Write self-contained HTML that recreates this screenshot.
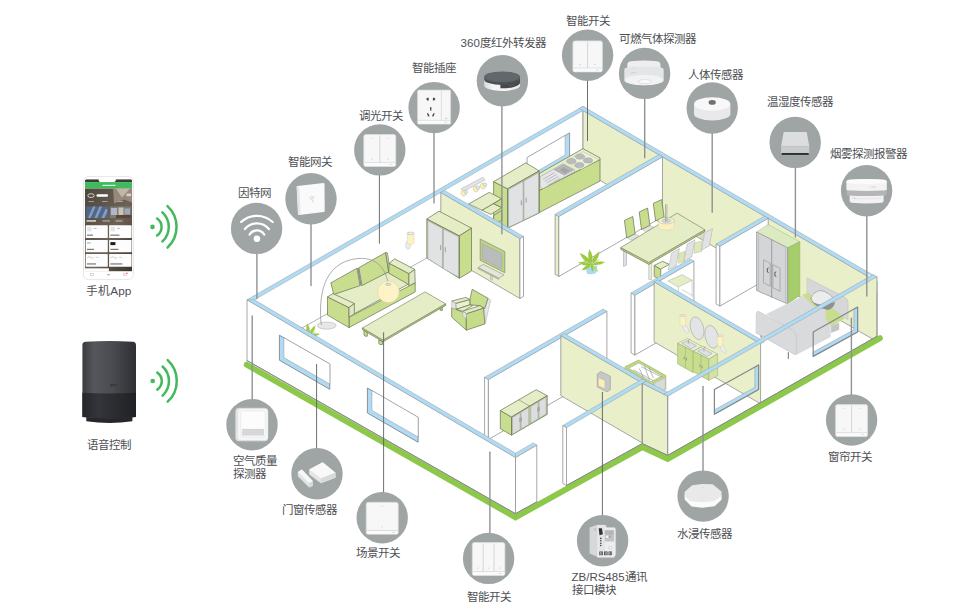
<!DOCTYPE html>
<html lang="zh-CN">
<head>
<meta charset="utf-8">
<title>Smart Home</title>
<style>
html,body{margin:0;padding:0;background:#fff;}
body{width:971px;height:615px;overflow:hidden;font-family:"Liberation Sans",sans-serif;}
svg{display:block;}
svg text{font-family:"Liberation Sans",sans-serif;font-size:11.5px;fill:#4d4f53;}
</style>
</head>
<body>
<svg width="971" height="615" viewBox="0 0 971 615">
<polygon points="250.7,302.0 586.7,108.4 586.7,168.4 250.7,362.0" fill="#fff" stroke="none" stroke-width="0.8" stroke-linejoin="round" />
<polyline points="583.0,110.5 583.0,170.5" fill="none" stroke="#909295" stroke-width="0.8" stroke-linecap="round" stroke-linejoin="round" />
<polygon points="583.0,110.5 877.1,281.7 877.1,341.7 583.0,170.5" fill="#e8efc9" stroke="#909295" stroke-width="0.8" stroke-linejoin="round" />
<polygon points="247.0,299.8 583.0,106.3 586.7,108.4 250.7,302.0" fill="#afdcf4" stroke="#9a9c9e" stroke-width="0.5" stroke-linejoin="round" />
<polygon points="579.3,108.4 583.0,106.3 876.5,277.1 872.8,279.2" fill="#afdcf4" stroke="#9a9c9e" stroke-width="0.5" stroke-linejoin="round" />
<polygon points="527.2,157.5 569.6,132.9 569.6,158.4 527.2,182.9" fill="#afdcf4" stroke="#909295" stroke-width="0.9" stroke-linejoin="round" />
<polygon points="527.2,157.5 565.1,135.6 565.1,155.0 527.2,177.2" fill="#fff" stroke="#909295" stroke-width="0.5" stroke-linejoin="round" />
<polygon points="539.2,173.6 583.0,148.6 600.0,157.9 600.0,160.2 539.2,190.6" fill="#e4edc6" stroke="#677250" stroke-width="0.7" stroke-linejoin="round" />
<polygon points="539.2,190.6 600.0,159.7 600.0,181.1 539.2,212.6" fill="#c8dd8e" stroke="#677250" stroke-width="0.7" stroke-linejoin="round" />
<polygon points="566.2,161.5 583.0,151.8 598.4,159.7 581.2,169.3" fill="#edf2da" stroke="#b9c2a3" stroke-width="0.5" stroke-linejoin="round" />
<ellipse cx="571.4" cy="161.1" rx="4.6" ry="2.6" fill="#b9bbbd" stroke="#9a9c9e" stroke-width="0.4" />
<ellipse cx="580.0" cy="156.6" rx="4.6" ry="2.6" fill="#b9bbbd" stroke="#9a9c9e" stroke-width="0.4" />
<ellipse cx="588.0" cy="160.4" rx="4.6" ry="2.6" fill="#b9bbbd" stroke="#9a9c9e" stroke-width="0.4" />
<ellipse cx="579.4" cy="165.0" rx="4.6" ry="2.6" fill="#b9bbbd" stroke="#9a9c9e" stroke-width="0.4" />
<polygon points="540.1,176.8 563.0,163.8 574.4,169.7 574.4,171.8 542.8,188.8 540.1,187.0" fill="#e6e7e8" stroke="#9a9c9e" stroke-width="0.6" stroke-linejoin="round" />
<polygon points="554.4,169.7 563.3,164.7 573.2,170.1 564.2,175.1" fill="#b4b6b8" stroke="#8e9092" stroke-width="0.5" stroke-linejoin="round" />
<polygon points="559.4,170.1 563.7,167.6 569.6,170.8 565.1,173.3" fill="#a2a4a6" stroke="none" stroke-width="0" stroke-linejoin="round" />
<polyline points="543.3,179.0 554.4,172.7" fill="none" stroke="#9a9c9e" stroke-width="0.6" stroke-linecap="round" stroke-linejoin="round" />
<polyline points="545.1,181.0 556.2,174.7" fill="none" stroke="#9a9c9e" stroke-width="0.6" stroke-linecap="round" stroke-linejoin="round" />
<polyline points="546.9,182.9 558.0,176.7" fill="none" stroke="#9a9c9e" stroke-width="0.6" stroke-linecap="round" stroke-linejoin="round" />
<polyline points="548.7,184.9 559.8,178.6" fill="none" stroke="#9a9c9e" stroke-width="0.6" stroke-linecap="round" stroke-linejoin="round" />
<polygon points="461.1,188.8 482.9,177.2 485.0,179.9 463.2,191.5" fill="#e3e4e5" stroke="#a7a9ab" stroke-width="0.5" stroke-linejoin="round" />
<ellipse cx="463.6" cy="193.3" rx="2.6" ry="2.9" fill="#fbf0b8" stroke="#b9b48f" stroke-width="0.4" transform="rotate(-30 463.6 193.3)"/>
<ellipse cx="465.8" cy="191.9" rx="1.8" ry="1.8" fill="#e3e4e5" stroke="#a7a9ab" stroke-width="0.4" />
<ellipse cx="475.8" cy="189.0" rx="2.6" ry="2.9" fill="#fbf0b8" stroke="#b9b48f" stroke-width="0.4" transform="rotate(-30 475.8 189.0)"/>
<ellipse cx="478.0" cy="187.6" rx="1.8" ry="1.8" fill="#e3e4e5" stroke="#a7a9ab" stroke-width="0.4" />
<ellipse cx="482.9" cy="186.0" rx="2.6" ry="2.9" fill="#fbf0b8" stroke="#b9b48f" stroke-width="0.4" transform="rotate(-30 482.9 186.0)"/>
<ellipse cx="485.1" cy="184.6" rx="1.8" ry="1.8" fill="#e3e4e5" stroke="#a7a9ab" stroke-width="0.4" />
<polygon points="493.6,181.7 507.6,188.8 507.6,228.2 493.6,221.0" fill="#c8dd8e" stroke="#677250" stroke-width="0.7" stroke-linejoin="round" />
<polygon points="493.6,181.7 525.8,162.9 539.2,170.9 507.6,188.8" fill="#e4edc6" stroke="#677250" stroke-width="0.7" stroke-linejoin="round" />
<polygon points="507.6,188.8 539.2,170.9 539.2,213.0 507.6,228.2" fill="#b9c79c" stroke="#677250" stroke-width="0.7" stroke-linejoin="round" />
<polygon points="508.6,189.4 523.1,181.3 523.1,220.5 508.6,227.3" fill="#e1e2e3" stroke="#9a9c9e" stroke-width="0.5" stroke-linejoin="round" />
<polygon points="524.0,181.0 538.5,172.7 538.5,212.8 524.0,219.9" fill="#e1e2e3" stroke="#9a9c9e" stroke-width="0.5" stroke-linejoin="round" />
<polyline points="521.3,200.8 521.3,204.9" fill="none" stroke="#8e9092" stroke-width="0.8" stroke-linecap="round" stroke-linejoin="round" />
<polyline points="526.2,198.1 526.2,202.2" fill="none" stroke="#8e9092" stroke-width="0.8" stroke-linecap="round" stroke-linejoin="round" />
<polygon points="468.6,204.0 489.2,192.4 501.7,198.7 482.0,210.3" fill="#e4edc6" stroke="#677250" stroke-width="0.7" stroke-linejoin="round" />
<polygon points="482.0,210.3 493.6,203.7 501.7,207.6 490.9,214.4" fill="#e4edc6" stroke="#677250" stroke-width="0.7" stroke-linejoin="round" />
<polygon points="493.6,203.7 501.7,198.7 501.7,207.6" fill="#c8dd8e" stroke="#677250" stroke-width="0.7" stroke-linejoin="round" />
<polygon points="493.6,215.6 501.7,210.3 501.7,220.1 493.6,225.5" fill="#c8dd8e" stroke="#677250" stroke-width="0.7" stroke-linejoin="round" />
<polygon points="440.8,192.5 519.9,238.5 519.9,298.5 440.8,252.5" fill="#e8efc9" stroke="#909295" stroke-width="0.8" stroke-linejoin="round" />
<polygon points="519.9,238.5 523.5,236.4 523.5,296.4 519.9,298.5" fill="#fff" stroke="#909295" stroke-width="0.8" stroke-linejoin="round" />
<polygon points="440.8,192.5 444.4,190.4 523.5,236.4 519.9,238.5" fill="#afdcf4" stroke="#9a9c9e" stroke-width="0.5" stroke-linejoin="round" />
<polygon points="555.1,214.3 558.8,216.5 558.8,276.5 555.1,274.3" fill="#e8efc9" stroke="#909295" stroke-width="0.8" stroke-linejoin="round" />
<polygon points="558.8,216.5 662.5,156.8 662.5,216.8 558.8,276.5" fill="#fff" stroke="#909295" stroke-width="0.8" stroke-linejoin="round" />
<polygon points="555.1,214.3 658.8,154.6 662.5,156.8 558.8,216.5" fill="#afdcf4" stroke="#9a9c9e" stroke-width="0.5" stroke-linejoin="round" />
<polyline points="300.5,328.8 426.8,258.0" fill="none" stroke="#909295" stroke-width="0.7" stroke-linecap="round" stroke-linejoin="round" />
<path d="M407.4 240.3 Q404.8 244 405.9 247.8 Q407.6 250.6 409.7 248.4 L411 243.6 z" fill="#ecedee" stroke="#c3c5c7" stroke-width="0.5" stroke-linejoin="round" stroke-linecap="round" />
<path d="M407.2 233.4 v9.6 a3.4 1.3 0 0 0 6.8 0 v-9.6z" fill="#fcf3c4" stroke="#d9cf9b" stroke-width="0.4" stroke-linejoin="round" stroke-linecap="round" />
<ellipse cx="410.6" cy="233.4" rx="3.4" ry="1.4" fill="#e9e6d2" stroke="#b5b7b9" stroke-width="0.5" />
<ellipse cx="410.6" cy="233.5" rx="1.8" ry="0.7" fill="#f6f2dc" stroke="none" stroke-width="0" />
<polygon points="426.8,219.0 439.0,211.2 471.5,228.1 459.3,235.9" fill="#e4edc6" stroke="#677250" stroke-width="0.7" stroke-linejoin="round" />
<polygon points="459.3,235.9 471.5,228.1 471.5,271.0 459.3,278.3" fill="#c8dd8e" stroke="#677250" stroke-width="0.7" stroke-linejoin="round" />
<polygon points="426.8,219.0 459.3,235.9 459.3,278.3 426.8,258.0" fill="#b9c79c" stroke="#677250" stroke-width="0.7" stroke-linejoin="round" />
<polygon points="427.8,220.8 442.4,228.4 442.4,267.9 427.8,258.5" fill="#e1e2e3" stroke="#9a9c9e" stroke-width="0.5" stroke-linejoin="round" />
<polygon points="443.4,228.9 458.5,236.7 458.5,277.0 443.4,268.7" fill="#e1e2e3" stroke="#9a9c9e" stroke-width="0.5" stroke-linejoin="round" />
<polyline points="440.6,245.5 440.6,249.7" fill="none" stroke="#8e9092" stroke-width="0.8" stroke-linecap="round" stroke-linejoin="round" />
<polyline points="445.3,247.6 445.3,251.8" fill="none" stroke="#8e9092" stroke-width="0.8" stroke-linecap="round" stroke-linejoin="round" />
<polygon points="480.2,239.0 504.8,251.5 504.8,272.7 480.2,260.3" fill="#bcd381" stroke="#8e9092" stroke-width="0.8" stroke-linejoin="round" />
<polygon points="482.4,243.9 501.8,253.7 501.8,269.0 482.4,259.2" fill="#b9bbbd" stroke="#9a9c9e" stroke-width="0.4" stroke-linejoin="round" />
<polygon points="490.5,274.5 492.3,275.3 492.3,280.3 490.5,279.4" fill="#d5dbc5" stroke="#9a9c9e" stroke-width="0.4" stroke-linejoin="round" />
<polygon points="478.1,267.6 483.2,264.4 504.0,274.9 498.8,278.3" fill="#e3e8d6" stroke="#8e9092" stroke-width="0.6" stroke-linejoin="round" />
<polygon points="478.1,267.6 498.8,278.3 498.8,279.4 478.1,268.8" fill="#c9cfba" stroke="#8e9092" stroke-width="0.5" stroke-linejoin="round" />
<polygon points="333.4,294.2 388.0,272.2 408.9,283.8 354.4,313.7" fill="#e4edc6" stroke="#677250" stroke-width="0.7" stroke-linejoin="round" />
<polygon points="330.8,282.9 357.0,268.2 360.1,285.6 333.8,294.5" fill="#c8dd8e" stroke="#677250" stroke-width="0.7" stroke-linejoin="round" />
<polygon points="358.8,267.7 385.7,252.5 388.7,271.8 361.9,285.6" fill="#c8dd8e" stroke="#677250" stroke-width="0.7" stroke-linejoin="round" />
<polygon points="357.0,268.2 358.8,267.7 361.9,285.6 360.1,285.6" fill="#8e9092" stroke="none" stroke-width="0" stroke-linejoin="round" />
<polygon points="385.7,252.5 387.4,252.9 390.1,270.4 388.7,271.8" fill="#dfe8c3" stroke="#677250" stroke-width="0.7" stroke-linejoin="round" />
<polygon points="389.2,263.2 408.9,273.6 408.9,284.7 388.7,273.1" fill="#c8dd8e" stroke="#677250" stroke-width="0.7" stroke-linejoin="round" />
<polygon points="389.2,263.2 394.6,258.8 414.8,269.5 408.9,273.6" fill="#e4edc6" stroke="#677250" stroke-width="0.7" stroke-linejoin="round" />
<polygon points="408.9,273.6 414.8,269.5 415.2,282.9 408.9,286.1" fill="#dfe8c3" stroke="#677250" stroke-width="0.7" stroke-linejoin="round" />
<polygon points="349.0,317.2 408.9,286.1 415.2,282.9 415.2,291.9 349.0,327.6" fill="#c8dd8e" stroke="#677250" stroke-width="0.7" stroke-linejoin="round" />
<polygon points="327.5,296.9 349.0,307.6 349.0,327.6 327.5,315.1" fill="#c8dd8e" stroke="#677250" stroke-width="0.7" stroke-linejoin="round" />
<polygon points="327.5,296.9 332.9,293.6 354.4,303.5 349.0,307.6" fill="#e4edc6" stroke="#677250" stroke-width="0.7" stroke-linejoin="round" />
<polygon points="349.0,307.6 354.4,303.5 354.4,313.7 349.0,317.2" fill="#dfe8c3" stroke="#677250" stroke-width="0.7" stroke-linejoin="round" />
<ellipse cx="326.7" cy="325.6" rx="9.4" ry="3.6" fill="#e6e7e8" stroke="#a7a9ab" stroke-width="0.5" />
<path d="M321.2 324.5 C318.5 298 322 262 358 258.5 C378 257 386 270 388.2 283.5" fill="none" stroke="#97999b" stroke-width="0.8" stroke-linejoin="round" stroke-linecap="round" />
<ellipse cx="388.4" cy="291.9" rx="10.8" ry="10.8" fill="#fdf3c6" stroke="#d9cf9b" stroke-width="0.5" />
<ellipse cx="388.2" cy="284.3" rx="2.6" ry="1.1" fill="#e3e4e5" stroke="#9a9c9e" stroke-width="0.5" />
<polygon points="364.0,330.1 367.3,332.1 367.3,336.2 365.2,336.2 364.0,335.1" fill="#c8dd8e" stroke="#677250" stroke-width="0.7" stroke-linejoin="round" />
<polygon points="378.8,340.0 382.5,341.2 382.5,344.5 379.7,344.5 378.8,343.3" fill="#c8dd8e" stroke="#677250" stroke-width="0.7" stroke-linejoin="round" />
<polygon points="439.8,307.6 442.3,306.6 442.3,310.4 440.3,310.4" fill="#c8dd8e" stroke="#677250" stroke-width="0.7" stroke-linejoin="round" />
<polygon points="362.4,328.0 383.0,340.0 445.6,303.8 445.6,305.4 383.0,341.8 362.4,329.6" fill="#c3d889" stroke="#677250" stroke-width="0.7" stroke-linejoin="round" />
<polygon points="362.4,328.0 425.0,291.9 445.6,303.8 383.0,340.0" fill="#e4edc6" stroke="#7f8d6c" stroke-width="0.7" stroke-linejoin="round" />
<polygon points="488.0,298.3 490.7,300.0 485.3,323.4 484.4,309.3" fill="#e6e7e8" stroke="#a7a9ab" stroke-width="0.5" stroke-linejoin="round" />
<polygon points="472.2,289.3 488.0,298.3 484.7,308.5 480.0,305.6 469.8,304.9 469.8,300.0" fill="#c8dd8e" stroke="#677250" stroke-width="0.7" stroke-linejoin="round" />
<polygon points="455.6,303.4 469.8,299.5 469.8,304.9 456.1,309.3" fill="#e9f0cf" stroke="#677250" stroke-width="0.7" stroke-linejoin="round" />
<polygon points="456.1,309.3 469.8,304.9 472.7,305.6 462.9,311.4" fill="#e4edc6" stroke="#677250" stroke-width="0.7" stroke-linejoin="round" />
<polygon points="451.7,307.8 455.6,309.3 462.9,312.2 466.3,318.5 466.3,330.2 451.7,317.1" fill="#c8dd8e" stroke="#677250" stroke-width="0.7" stroke-linejoin="round" />
<polygon points="466.3,313.7 483.4,308.1 484.9,323.9 466.3,330.2" fill="#c5db8a" stroke="#677250" stroke-width="0.7" stroke-linejoin="round" />
<polygon points="451.7,301.0 465.9,297.4 469.8,299.5 455.6,303.4" fill="#e4edc6" stroke="#677250" stroke-width="0.7" stroke-linejoin="round" />
<polygon points="451.7,301.0 455.6,303.4 455.6,309.3 451.7,307.8" fill="#e3e4e5" stroke="#a7a9ab" stroke-width="0.5" stroke-linejoin="round" />
<polygon points="462.9,311.2 480.0,305.6 483.4,308.1 466.3,313.7" fill="#e4edc6" stroke="#677250" stroke-width="0.7" stroke-linejoin="round" />
<polygon points="462.9,311.2 466.3,313.7 466.3,318.5 462.9,316.6" fill="#e3e4e5" stroke="#a7a9ab" stroke-width="0.5" stroke-linejoin="round" />
<path d="M309.0 336.1 Q304.0 332.6 298.2 334.2 Q303.2 337.6 309.0 336.1 z" fill="#9dca3f" stroke="#8fbb37" stroke-width="0.25" stroke-linejoin="round" stroke-linecap="round" />
<path d="M309.5 335.8 Q315.0 337.4 319.5 333.9 Q314.1 332.4 309.5 335.8 z" fill="#9dca3f" stroke="#8fbb37" stroke-width="0.25" stroke-linejoin="round" stroke-linecap="round" />
<path d="M308.5 336.1 Q303.7 336.1 301.4 340.4 Q306.2 340.3 308.5 336.1 z" fill="#9dca3f" stroke="#8fbb37" stroke-width="0.25" stroke-linejoin="round" stroke-linecap="round" />
<path d="M309.0 335.5 Q306.6 328.9 299.8 326.8 Q302.2 333.5 309.0 335.5 z" fill="#9dca3f" stroke="#8fbb37" stroke-width="0.25" stroke-linejoin="round" stroke-linecap="round" />
<path d="M309.3 335.5 Q314.8 332.1 315.3 325.5 Q309.8 329.0 309.3 335.5 z" fill="#9dca3f" stroke="#8fbb37" stroke-width="0.25" stroke-linejoin="round" stroke-linecap="round" />
<path d="M308.7 336.1 Q311.2 329.5 307.4 323.7 Q304.9 330.2 308.7 336.1 z" fill="#9dca3f" stroke="#8fbb37" stroke-width="0.25" stroke-linejoin="round" stroke-linecap="round" />
<path d="M309.0 335.0 Q307.8 338.6 310.1 341.6 Q311.3 338.0 309.0 335.0 z" fill="#9dca3f" stroke="#8fbb37" stroke-width="0.25" stroke-linejoin="round" stroke-linecap="round" />
<path d="M309.8 336.1 Q310.8 340.0 314.3 341.9 Q313.3 338.0 309.8 336.1 z" fill="#c3dc84" stroke="#8fbb37" stroke-width="0.25" stroke-linejoin="round" stroke-linecap="round" />
<path d="M308.5 335.0 Q305.9 333.1 302.7 333.0 Q305.3 334.9 308.5 335.0 z" fill="#cfe39a" stroke="#8fbb37" stroke-width="0.25" stroke-linejoin="round" stroke-linecap="round" />
<path d="M310.1 335.0 Q313.2 334.2 315.3 331.8 Q312.2 332.6 310.1 335.0 z" fill="#cfe39a" stroke="#8fbb37" stroke-width="0.25" stroke-linejoin="round" stroke-linecap="round" />
<path d="M308.2 332.4 Q307.9 334.6 309.0 336.6 Q309.3 334.3 308.2 332.4 z" fill="#d5e7a5" stroke="#8fbb37" stroke-width="0.25" stroke-linejoin="round" stroke-linecap="round" />
<path d="M310.3 332.1 Q309.1 334.2 309.3 336.6 Q310.5 334.5 310.3 332.1 z" fill="#d5e7a5" stroke="#8fbb37" stroke-width="0.25" stroke-linejoin="round" stroke-linecap="round" />
<polygon points="627.0,237.4 635.1,233.8 639.0,235.8 631.0,240.2" fill="#e3e4e5" stroke="#a7a9ab" stroke-width="0.5" stroke-linejoin="round" />
<polygon points="624.4,220.4 632.8,216.5 635.1,233.8 626.7,237.9" fill="#c8dd8e" stroke="#677250" stroke-width="0.7" stroke-linejoin="round" />
<polygon points="641.9,229.0 649.9,225.4 653.9,227.4 645.8,231.8" fill="#e3e4e5" stroke="#a7a9ab" stroke-width="0.5" stroke-linejoin="round" />
<polygon points="639.2,212.0 647.6,208.1 649.9,225.4 641.5,229.5" fill="#c8dd8e" stroke="#677250" stroke-width="0.7" stroke-linejoin="round" />
<polygon points="656.0,220.4 664.0,216.8 668.0,218.8 659.9,223.2" fill="#e3e4e5" stroke="#a7a9ab" stroke-width="0.5" stroke-linejoin="round" />
<polygon points="653.3,203.4 661.7,199.5 664.0,216.8 655.6,220.9" fill="#c8dd8e" stroke="#677250" stroke-width="0.7" stroke-linejoin="round" />
<polygon points="654.2,265.4 660.7,269.1 660.7,279.9 654.2,276.5" fill="#c8dd8e" stroke="#677250" stroke-width="0.7" stroke-linejoin="round" />
<polygon points="654.2,265.4 662.5,261.3 669.4,264.4 660.7,269.1" fill="#e4edc6" stroke="#677250" stroke-width="0.7" stroke-linejoin="round" />
<polygon points="678.6,253.4 685.0,251.2 685.0,261.3 678.6,263.3" fill="#d9e7b1" stroke="#a9b592" stroke-width="0.4" stroke-linejoin="round" />
<polygon points="694.2,242.9 701.8,241.2 701.8,251.2 694.2,253.4" fill="#dde9b9" stroke="#a9b592" stroke-width="0.4" stroke-linejoin="round" />
<polygon points="623.5,250.8 626.5,252.6 626.5,265.1 623.5,266.5" fill="#dfe0e1" stroke="#9a9c9e" stroke-width="0.5" stroke-linejoin="round" />
<polygon points="648.8,263.7 651.7,262.4 651.7,279.4 648.8,279.4" fill="#e9efd6" stroke="#9a9c9e" stroke-width="0.5" stroke-linejoin="round" />
<polygon points="700.9,232.9 703.0,231.7 703.0,240.4 700.9,239.2" fill="#e9efd6" stroke="#9a9c9e" stroke-width="0.5" stroke-linejoin="round" />
<polygon points="620.8,247.6 648.8,262.4 704.8,229.7 704.8,231.5 648.8,264.4 620.8,249.3" fill="#c3d889" stroke="#677250" stroke-width="0.7" stroke-linejoin="round" />
<polygon points="620.8,247.6 677.1,213.2 704.8,229.7 648.8,262.4" fill="#e4edc6" stroke="#7f8d6c" stroke-width="0.7" stroke-linejoin="round" />
<path d="M658.4 220.7 v6.2 a8 3.2 0 0 0 16 0 v-6.2z" fill="#fbf1c0" stroke="#d9cf9b" stroke-width="0.5" stroke-linejoin="round" stroke-linecap="round" />
<ellipse cx="666.4" cy="220.7" rx="8.0" ry="3.2" fill="#f3f0dd" stroke="#b9b48f" stroke-width="0.5" />
<ellipse cx="666.4" cy="220.7" rx="4.5" ry="1.7" fill="#d9dadb" stroke="#9a9c9e" stroke-width="0.4" />
<polyline points="665.5,204.7 665.5,221.3" fill="none" stroke="#9a9c9e" stroke-width="0.7" stroke-linecap="round" stroke-linejoin="round" />
<polyline points="666.9,204.7 666.9,221.3" fill="none" stroke="#9a9c9e" stroke-width="0.7" stroke-linecap="round" stroke-linejoin="round" />
<polygon points="671.7,252.9 679.4,248.6 676.2,266.0 668.2,270.1" fill="#e1e2e3" stroke="#a7a9ab" stroke-width="0.5" stroke-linejoin="round" />
<polygon points="687.3,244.0 695.0,239.7 691.7,257.0 683.7,261.1" fill="#e1e2e3" stroke="#a7a9ab" stroke-width="0.5" stroke-linejoin="round" />
<polygon points="704.8,232.9 712.5,228.6 709.3,246.0 701.2,250.1" fill="#e1e2e3" stroke="#a7a9ab" stroke-width="0.5" stroke-linejoin="round" />
<path d="M586.0 266.6 L597.0 266.0 L595.7 273.1 Q591.5 274.7 587.3 273.4 z" fill="#a9dbf2" stroke="#8cc3dd" stroke-width="0.3" stroke-linejoin="round" stroke-linecap="round" />
<path d="M591.5 264.8 Q585.4 260.6 578.2 262.5 Q584.3 266.7 591.5 264.8 z" fill="#9dca3f" stroke="#8fbb37" stroke-width="0.25" stroke-linejoin="round" stroke-linecap="round" />
<path d="M592.2 264.5 Q598.9 266.4 604.5 262.2 Q597.8 260.3 592.2 264.5 z" fill="#9dca3f" stroke="#8fbb37" stroke-width="0.25" stroke-linejoin="round" stroke-linecap="round" />
<path d="M590.8 264.8 Q584.9 264.9 582.1 270.1 Q588.0 270.0 590.8 264.8 z" fill="#9dca3f" stroke="#8fbb37" stroke-width="0.25" stroke-linejoin="round" stroke-linecap="round" />
<path d="M591.5 264.2 Q588.5 255.9 580.1 253.4 Q583.1 261.6 591.5 264.2 z" fill="#9dca3f" stroke="#8fbb37" stroke-width="0.25" stroke-linejoin="round" stroke-linecap="round" />
<path d="M591.8 264.2 Q598.7 259.9 599.3 251.8 Q592.4 256.1 591.8 264.2 z" fill="#9dca3f" stroke="#8fbb37" stroke-width="0.25" stroke-linejoin="round" stroke-linecap="round" />
<path d="M591.2 264.8 Q594.2 256.7 589.5 249.5 Q586.5 257.6 591.2 264.8 z" fill="#9dca3f" stroke="#8fbb37" stroke-width="0.25" stroke-linejoin="round" stroke-linecap="round" />
<path d="M591.5 263.5 Q590.0 267.9 592.8 271.6 Q594.3 267.2 591.5 263.5 z" fill="#9dca3f" stroke="#8fbb37" stroke-width="0.25" stroke-linejoin="round" stroke-linecap="round" />
<path d="M592.5 264.8 Q593.7 269.6 598.0 272.1 Q596.8 267.3 592.5 264.8 z" fill="#c3dc84" stroke="#8fbb37" stroke-width="0.25" stroke-linejoin="round" stroke-linecap="round" />
<path d="M590.8 263.5 Q587.7 261.2 583.7 261.0 Q586.9 263.4 590.8 263.5 z" fill="#cfe39a" stroke="#8fbb37" stroke-width="0.25" stroke-linejoin="round" stroke-linecap="round" />
<path d="M592.8 263.5 Q596.7 262.6 599.3 259.6 Q595.5 260.5 592.8 263.5 z" fill="#cfe39a" stroke="#8fbb37" stroke-width="0.25" stroke-linejoin="round" stroke-linecap="round" />
<path d="M590.5 260.2 Q590.1 263.0 591.5 265.5 Q591.9 262.7 590.5 260.2 z" fill="#d5e7a5" stroke="#8fbb37" stroke-width="0.25" stroke-linejoin="round" stroke-linecap="round" />
<path d="M593.1 259.9 Q591.6 262.5 591.8 265.5 Q593.4 262.9 593.1 259.9 z" fill="#d5e7a5" stroke="#8fbb37" stroke-width="0.25" stroke-linejoin="round" stroke-linecap="round" />
<polygon points="716.1,244.0 719.9,246.1 719.9,306.1 716.1,304.0" fill="#fff" stroke="#909295" stroke-width="0.8" stroke-linejoin="round" />
<polygon points="719.9,246.1 768.2,218.3 768.2,278.3 719.9,306.1" fill="#fff" stroke="#909295" stroke-width="0.8" stroke-linejoin="round" />
<polygon points="716.1,244.0 764.5,216.2 768.2,218.3 719.9,246.1" fill="#afdcf4" stroke="#9a9c9e" stroke-width="0.5" stroke-linejoin="round" />
<polygon points="631.1,292.9 634.9,295.1 634.9,355.1 631.1,352.9" fill="#fff" stroke="#909295" stroke-width="0.8" stroke-linejoin="round" />
<polygon points="634.9,295.1 693.9,261.1 693.9,321.1 634.9,355.1" fill="#fff" stroke="#909295" stroke-width="0.8" stroke-linejoin="round" />
<polygon points="631.1,292.9 690.1,258.9 693.9,261.1 634.9,295.1" fill="#afdcf4" stroke="#9a9c9e" stroke-width="0.5" stroke-linejoin="round" />
<polygon points="667.9,281.1 682.2,274.6 692.1,280.3 678.3,287.1" fill="#e4edc6" stroke="#a9b592" stroke-width="0.5" stroke-linejoin="round" />
<polyline points="678.3,287.1 678.3,291.5" fill="none" stroke="#a7a9ab" stroke-width="0.5" stroke-linecap="round" stroke-linejoin="round" />
<polyline points="692.1,280.3 692.1,296.7" fill="none" stroke="#a7a9ab" stroke-width="0.5" stroke-linecap="round" stroke-linejoin="round" />
<polyline points="682.2,289.7 692.1,295.4" fill="none" stroke="#a7a9ab" stroke-width="0.5" stroke-linecap="round" stroke-linejoin="round" />
<polygon points="756.6,232.0 768.0,224.6 799.8,241.7 787.6,247.8" fill="#dcebbf" stroke="#a9b592" stroke-width="0.5" stroke-linejoin="round" />
<polygon points="787.6,247.8 799.8,241.7 799.8,295.4 787.6,303.9" fill="#a5cd6b" stroke="#8bb255" stroke-width="0.5" stroke-linejoin="round" />
<polygon points="756.6,232.0 787.6,247.8 787.6,303.9 756.6,290.5" fill="#d3d5d7" stroke="#8e9092" stroke-width="0.7" stroke-linejoin="round" />
<polyline points="771.7,239.8 771.7,297.3" fill="none" stroke="#8e9092" stroke-width="0.8" stroke-linecap="round" stroke-linejoin="round" />
<polyline points="758.5,234.4 758.5,290.5" fill="none" stroke="#a7a9ab" stroke-width="0.5" stroke-linecap="round" stroke-linejoin="round" />
<polyline points="785.6,248.3 785.6,302.2" fill="none" stroke="#a7a9ab" stroke-width="0.5" stroke-linecap="round" stroke-linejoin="round" />
<path d="M763.9 260.0 l6.3 3.2 v23 l-6.3 -3.2z" fill="none" stroke="#8e9092" stroke-width="0.6" stroke-linejoin="round" stroke-linecap="round" />
<path d="M773.2 264.9 l6.8 3.4 v23 l-6.8 -3.4z" fill="none" stroke="#8e9092" stroke-width="0.6" stroke-linejoin="round" stroke-linecap="round" />
<polyline points="768.3,268.0 767.3,268.5 767.3,272.0 768.3,272.4" fill="none" stroke="#3f4043" stroke-width="0.8" stroke-linecap="round" stroke-linejoin="round" />
<polyline points="775.9,272.0 774.9,272.4 774.9,275.9 775.9,276.3" fill="none" stroke="#3f4043" stroke-width="0.8" stroke-linecap="round" stroke-linejoin="round" />
<path d="M807.3 278.1 L844.1 296.8 Q848.0 298.9 848.0 302.5 L848.0 319.6 L807.3 297.6 z" fill="#d6d7d9" stroke="#b9bbbd" stroke-width="0.5" stroke-linejoin="round" stroke-linecap="round" />
<polygon points="766.0,314.2 802.6,296.0 830.7,311.5 830.7,337.0 796.1,354.9 793.7,331.8" fill="#d9dadc" stroke="none" stroke-width="0" stroke-linejoin="round" />
<polygon points="801.8,294.7 809.6,292.8 812.8,298.9 821.3,307.7 816.4,308.7 809.9,302.5" fill="#c8dd8e" stroke="none" stroke-width="0" stroke-linejoin="round" />
<polygon points="825.4,309.3 831.4,307.1 841.1,314.9 844.4,318.8 831.4,326.3 825.7,318.8" fill="#c8dd8e" stroke="none" stroke-width="0" stroke-linejoin="round" />
<polygon points="831.1,326.1 839.2,322.4 839.2,329.8 831.1,333.1" fill="#c3c5c7" stroke="none" stroke-width="0" stroke-linejoin="round" />
<path d="M811.2 300.6 Q816.4 308.2 828.6 310.0 Q834.3 307.4 835.0 301.9 Q821.3 306.6 811.2 300.6 z" fill="#8e9092" stroke="none" stroke-width="0" stroke-linejoin="round" stroke-linecap="round" />
<path d="M810.9 298.6 Q812.4 292.0 820.5 290.5 Q829.4 292.0 834.6 300.2 Q831.1 305.0 821.3 304.8 Q812.4 304.5 810.9 298.6 z" fill="#ececec" stroke="#85878a" stroke-width="0.5" stroke-linejoin="round" stroke-linecap="round" />
<path d="M756.3 313.6 Q756.3 310.7 758.9 311.6 L792.4 329.8 Q796.3 332.1 796.3 336.7 L796.3 353.3 Q796.3 355.5 794.0 354.2 L756.3 333.1 z" fill="#d9dadc" stroke="#bfc1c3" stroke-width="0.6" stroke-linejoin="round" stroke-linecap="round" />
<polyline points="788.3,352.6 788.3,358.6" fill="none" stroke="#6d6f72" stroke-width="1.0" stroke-linecap="round" stroke-linejoin="round" />
<polyline points="761.1,335.9 761.1,337.3" fill="none" stroke="#5b5d60" stroke-width="0.9" stroke-linecap="round" stroke-linejoin="round" />
<polygon points="654.1,281.8 760.6,343.8 760.6,403.8 654.1,341.8" fill="#e8efc9" stroke="#909295" stroke-width="0.8" stroke-linejoin="round" />
<polygon points="654.1,281.8 657.9,279.7 764.4,341.7 760.6,343.8" fill="#afdcf4" stroke="#9a9c9e" stroke-width="0.5" stroke-linejoin="round" />
<polygon points="484.6,377.3 488.4,379.5 488.4,439.5 484.6,437.3" fill="#fff" stroke="#909295" stroke-width="0.8" stroke-linejoin="round" />
<polygon points="488.4,379.5 606.9,311.2 606.9,371.2 488.4,439.5" fill="#fff" stroke="#909295" stroke-width="0.8" stroke-linejoin="round" />
<polygon points="484.6,377.3 603.1,309.1 606.9,311.2 488.4,379.5" fill="#afdcf4" stroke="#9a9c9e" stroke-width="0.5" stroke-linejoin="round" />
<polygon points="624.9,366.8 638.5,360.0 665.9,375.6 665.9,389.3 652.2,396.1 624.9,381.5" fill="#bfd67c" stroke="#94a86a" stroke-width="0.5" stroke-linejoin="round" />
<polygon points="628.8,368.2 638.9,363.1 662.0,376.0 651.2,381.5" fill="#fff" stroke="#a7a9ab" stroke-width="0.5" stroke-linejoin="round" />
<polygon points="654.1,383.0 665.3,377.6 665.3,389.3 654.1,395.1" fill="#d9dadb" stroke="#a7a9ab" stroke-width="0.4" stroke-linejoin="round" />
<polyline points="639.5,368.8 643.4,377.6" fill="none" stroke="#8e9092" stroke-width="0.6" stroke-linecap="round" stroke-linejoin="round" />
<polyline points="644.4,365.9 649.3,379.5" fill="none" stroke="#8e9092" stroke-width="0.6" stroke-linecap="round" stroke-linejoin="round" />
<polyline points="649.3,368.2 653.2,377.6" fill="none" stroke="#8e9092" stroke-width="0.6" stroke-linecap="round" stroke-linejoin="round" />
<polyline points="633.7,370.1 653.2,380.5" fill="none" stroke="#8e9092" stroke-width="0.6" stroke-linecap="round" stroke-linejoin="round" />
<polyline points="641.5,366.8 662.0,377.2" fill="none" stroke="#8e9092" stroke-width="0.6" stroke-linecap="round" stroke-linejoin="round" />
<ellipse cx="697.1" cy="328.2" rx="6.5" ry="11.6" fill="#e3e4e5" stroke="#9a9c9e" stroke-width="0.5" transform="rotate(-14 697.1 328.2)"/>
<ellipse cx="711.7" cy="336.8" rx="6.5" ry="11.6" fill="#e3e4e5" stroke="#9a9c9e" stroke-width="0.5" transform="rotate(-14 711.7 336.8)"/>
<path d="M683.8 323.8 q2.6 1.2 4.6 5.4 q1.4 3.4 -1 3.8 q-3 -0.6 -4.6 -5.6z" fill="#ecedee" stroke="#c3c5c7" stroke-width="0.5" stroke-linejoin="round" stroke-linecap="round" />
<path d="M680.0 315.6 v9.4 a2.8 1.1 0 0 0 5.6 0 v-9.4z" fill="#fcf2c2" stroke="#d9cf9b" stroke-width="0.4" stroke-linejoin="round" stroke-linecap="round" />
<ellipse cx="682.8" cy="315.6" rx="2.8" ry="1.1" fill="#ece8d2" stroke="#b5b7b9" stroke-width="0.4" />
<path d="M721.1 343.9 q2.6 1.2 4.6 5.4 q1.4 3.4 -1 3.8 q-3 -0.6 -4.6 -5.6z" fill="#ecedee" stroke="#c3c5c7" stroke-width="0.5" stroke-linejoin="round" stroke-linecap="round" />
<path d="M717.3 335.7 v9.4 a2.8 1.1 0 0 0 5.6 0 v-9.4z" fill="#fcf2c2" stroke="#d9cf9b" stroke-width="0.4" stroke-linejoin="round" stroke-linecap="round" />
<ellipse cx="720.1" cy="335.7" rx="2.8" ry="1.1" fill="#ece8d2" stroke="#b5b7b9" stroke-width="0.4" />
<polygon points="677.6,343.4 687.3,338.5 702.0,346.3 693.2,351.2" fill="#e9efd6" stroke="#94a86a" stroke-width="0.5" stroke-linejoin="round" />
<polygon points="682.0,343.4 687.3,340.7 696.5,345.8 691.2,348.7" fill="#dfe0e1" stroke="#9a9c9e" stroke-width="0.5" stroke-linejoin="round" />
<polyline points="688.3,343.4 688.3,340.1 689.9,339.1" fill="none" stroke="#8e9092" stroke-width="0.6" stroke-linecap="round" stroke-linejoin="round" />
<polygon points="677.6,343.4 693.2,351.2 693.2,372.7 677.6,363.9" fill="#c8dd8e" stroke="#94a86a" stroke-width="0.5" stroke-linejoin="round" />
<polyline points="685.4,347.3 685.4,368.2" fill="none" stroke="#94a86a" stroke-width="0.5" stroke-linecap="round" stroke-linejoin="round" />
<polyline points="684.2,357.1 684.2,359.0" fill="none" stroke="#77797c" stroke-width="0.6" stroke-linecap="round" stroke-linejoin="round" />
<polyline points="686.5,358.2 686.5,360.2" fill="none" stroke="#77797c" stroke-width="0.6" stroke-linecap="round" stroke-linejoin="round" />
<polygon points="693.2,351.2 702.9,346.3 717.6,354.1 708.8,359.0" fill="#e9efd6" stroke="#94a86a" stroke-width="0.5" stroke-linejoin="round" />
<polygon points="697.7,351.2 702.9,348.5 712.1,353.6 706.8,356.5" fill="#dfe0e1" stroke="#9a9c9e" stroke-width="0.5" stroke-linejoin="round" />
<polyline points="703.9,351.2 703.9,347.9 705.5,346.9" fill="none" stroke="#8e9092" stroke-width="0.6" stroke-linecap="round" stroke-linejoin="round" />
<polygon points="693.2,351.2 708.8,359.0 708.8,380.5 693.2,371.7" fill="#c8dd8e" stroke="#94a86a" stroke-width="0.5" stroke-linejoin="round" />
<polyline points="701.0,355.1 701.0,376.0" fill="none" stroke="#94a86a" stroke-width="0.5" stroke-linecap="round" stroke-linejoin="round" />
<polyline points="699.8,364.9 699.8,366.8" fill="none" stroke="#77797c" stroke-width="0.6" stroke-linecap="round" stroke-linejoin="round" />
<polyline points="702.1,366.0 702.1,368.0" fill="none" stroke="#77797c" stroke-width="0.6" stroke-linecap="round" stroke-linejoin="round" />
<polygon points="708.8,359.0 717.6,354.1 717.6,375.6 708.8,380.5" fill="#d3e3a3" stroke="#94a86a" stroke-width="0.5" stroke-linejoin="round" />
<polygon points="560.8,335.6 642.3,383.0 642.3,443.0 560.8,395.6" fill="#e8efc9" stroke="#909295" stroke-width="0.8" stroke-linejoin="round" />
<polygon points="560.8,335.6 564.5,333.5 646.0,380.9 642.3,383.0" fill="#afdcf4" stroke="#9a9c9e" stroke-width="0.5" stroke-linejoin="round" />
<polygon points="500.3,410.5 511.5,417.0 511.5,435.2 500.3,428.7" fill="#c8dd8e" stroke="#677250" stroke-width="0.7" stroke-linejoin="round" />
<polygon points="500.3,410.5 536.2,389.7 547.2,395.7 511.5,417.0" fill="#e4edc6" stroke="#677250" stroke-width="0.7" stroke-linejoin="round" />
<polyline points="518.8,399.9 529.7,406.1" fill="none" stroke="#677250" stroke-width="0.5" stroke-linecap="round" stroke-linejoin="round" />
<polygon points="511.5,417.0 547.2,395.7 547.2,414.4 511.5,435.2" fill="#b9c79c" stroke="#677250" stroke-width="0.7" stroke-linejoin="round" />
<polygon points="512.6,417.5 520.1,412.9 520.1,429.6 512.6,434.1" fill="#dcddde" stroke="#9a9c9e" stroke-width="0.4" stroke-linejoin="round" />
<polygon points="521.1,412.3 528.7,407.8 528.7,424.4 521.1,428.9" fill="#dcddde" stroke="#9a9c9e" stroke-width="0.4" stroke-linejoin="round" />
<polygon points="530.8,406.5 538.0,402.2 538.0,418.8 530.8,423.2" fill="#dcddde" stroke="#9a9c9e" stroke-width="0.4" stroke-linejoin="round" />
<polygon points="539.1,401.5 546.1,397.3 546.1,414.0 539.1,418.2" fill="#dcddde" stroke="#9a9c9e" stroke-width="0.4" stroke-linejoin="round" />
<polyline points="519.8,418.3 519.8,421.7" fill="none" stroke="#8e9092" stroke-width="0.7" stroke-linecap="round" stroke-linejoin="round" />
<polyline points="521.4,417.6 521.4,420.9" fill="none" stroke="#8e9092" stroke-width="0.7" stroke-linecap="round" stroke-linejoin="round" />
<polyline points="537.8,407.9 537.8,411.3" fill="none" stroke="#8e9092" stroke-width="0.7" stroke-linecap="round" stroke-linejoin="round" />
<polyline points="539.3,407.2 539.3,410.5" fill="none" stroke="#8e9092" stroke-width="0.7" stroke-linecap="round" stroke-linejoin="round" />
<polygon points="597.3,374.1 600.7,371.5 610.4,376.2 610.4,389.7 607.0,391.8 597.3,387.1" fill="#c5c7c9" stroke="#8e9092" stroke-width="0.5" stroke-linejoin="round" />
<polygon points="598.4,377.5 604.9,380.6 604.9,388.9 598.4,385.8" fill="#fbefb4" stroke="#b9b48f" stroke-width="0.4" stroke-linejoin="round" />
<polygon points="868.0,274.0 877.2,277.5 877.2,292.0 868.0,292.0" fill="#e8efc9" stroke="none" stroke-width="0" stroke-linejoin="round" />
<polygon points="642.3,383.3 667.7,396.2 667.7,455.4 642.3,443.6" fill="#e8efc9" stroke="#909295" stroke-width="0.8" stroke-linejoin="round" />
<polygon points="642.3,383.3 667.7,396.2 671.4,394.1 646.0,381.2" fill="#afdcf4" stroke="#9a9c9e" stroke-width="0.5" stroke-linejoin="round" />
<polygon points="667.7,396.2 876.9,276.8 873.2,274.6 664.0,394.0" fill="#afdcf4" stroke="#9a9c9e" stroke-width="0.5" stroke-linejoin="round" />
<polyline points="667.7,455.4 876.9,336.4" fill="none" stroke="#909295" stroke-width="0.8" stroke-linecap="round" stroke-linejoin="round" />
<polyline points="667.7,396.2 667.7,455.4" fill="none" stroke="#909295" stroke-width="0.8" stroke-linecap="round" stroke-linejoin="round" />
<polyline points="876.9,276.8 876.9,336.4" fill="none" stroke="#909295" stroke-width="0.8" stroke-linecap="round" stroke-linejoin="round" />
<polygon points="566.5,427.7 646.0,381.2 642.3,379.0 562.8,425.5" fill="#afdcf4" stroke="#9a9c9e" stroke-width="0.5" stroke-linejoin="round" />
<polyline points="566.5,485.5 642.3,443.6" fill="none" stroke="#909295" stroke-width="0.8" stroke-linecap="round" stroke-linejoin="round" />
<polyline points="642.3,383.3 642.3,443.6" fill="none" stroke="#909295" stroke-width="0.8" stroke-linecap="round" stroke-linejoin="round" />
<polygon points="562.8,425.5 566.5,427.7 566.5,485.5 562.8,483.4" fill="#fff" stroke="#909295" stroke-width="0.8" stroke-linejoin="round" />
<polygon points="247.0,299.8 515.5,457.5 515.5,513.7 247.0,360.5" fill="#fff" stroke="#909295" stroke-width="0.8" stroke-linejoin="round" />
<polygon points="247.0,299.8 515.5,457.5 515.5,453.2 254.4,299.8" fill="#afdcf4" stroke="#9a9c9e" stroke-width="0.5" stroke-linejoin="round" />
<polygon points="279.4,335.2 329.8,364.0 329.8,389.3 279.4,360.2" fill="#afdcf4" stroke="#8e9092" stroke-width="1.0" stroke-linejoin="round" />
<polygon points="283.9,337.8 329.8,364.0 329.8,384.1 283.9,357.6" fill="#fff" stroke="#909295" stroke-width="0.5" stroke-linejoin="round" />
<polygon points="367.4,388.0 418.1,417.3 418.1,442.2 367.4,413.0" fill="#afdcf4" stroke="#8e9092" stroke-width="1.0" stroke-linejoin="round" />
<polygon points="371.9,390.6 418.1,417.3 418.1,437.0 371.9,410.4" fill="#fff" stroke="#909295" stroke-width="0.5" stroke-linejoin="round" />
<polygon points="515.5,457.5 536.8,445.0 536.8,501.9 515.5,513.7" fill="#fff" stroke="#909295" stroke-width="0.8" stroke-linejoin="round" />
<polygon points="515.5,457.5 536.8,445.0 533.1,442.9 515.5,453.2" fill="#afdcf4" stroke="#9a9c9e" stroke-width="0.5" stroke-linejoin="round" />
<polygon points="758.6,364.9 758.6,389.6 714.4,414.2 714.4,409.9 754.9,387.4 754.9,367.0" fill="#afdcf4" stroke="#909295" stroke-width="0.5" stroke-linejoin="round" />
<polygon points="714.4,389.5 758.6,364.9 758.6,389.6 714.4,414.2" fill="none" stroke="#85878a" stroke-width="1.2" stroke-linejoin="round" />
<polygon points="857.6,307.1 857.6,332.0 813.2,356.4 813.2,352.1 853.9,329.8 853.9,309.2" fill="#afdcf4" stroke="#909295" stroke-width="0.5" stroke-linejoin="round" />
<polygon points="813.2,332.0 857.6,307.1 857.6,332.0 813.2,356.4" fill="none" stroke="#85878a" stroke-width="1.2" stroke-linejoin="round" />
<polyline points="246.7,364.7 515.5,517.3 642.3,447.1 667.7,458.9 879.9,338.2" fill="none" stroke="#8dc84b" stroke-width="5.9" stroke-linecap="round" stroke-linejoin="miter"/>
<polyline points="247.0,360.5 515.5,513.7 536.8,501.9" fill="none" stroke="#85878a" stroke-width="1.0" stroke-linecap="round" stroke-linejoin="round" />
<polyline points="566.5,485.5 642.3,443.6 667.7,455.4 876.9,336.4" fill="none" stroke="#85878a" stroke-width="1.0" stroke-linecap="round" stroke-linejoin="round" />
<polyline points="256.9,228.4 256.9,298.5" fill="none" stroke="#8f9294" stroke-width="1.4" stroke-linecap="round" stroke-linejoin="round" stroke-linecap="butt"/>
<polyline points="311.0,198.8 311.0,285.5" fill="none" stroke="#8f9294" stroke-width="1.4" stroke-linecap="round" stroke-linejoin="round" stroke-linecap="butt"/>
<polyline points="379.4,149.9 379.4,243.3" fill="none" stroke="#5b5d60" stroke-width="0.9" stroke-linecap="round" stroke-linejoin="round" stroke-linecap="butt"/>
<polyline points="434.0,107.6 434.0,203.0" fill="none" stroke="#8f9294" stroke-width="1.4" stroke-linecap="round" stroke-linejoin="round" stroke-linecap="butt"/>
<polyline points="501.9,80.8 501.9,233.8" fill="none" stroke="#8f9294" stroke-width="1.4" stroke-linecap="round" stroke-linejoin="round" stroke-linecap="butt"/>
<polyline points="587.5,55.2 587.5,140.7" fill="none" stroke="#5b5d60" stroke-width="0.9" stroke-linecap="round" stroke-linejoin="round" stroke-linecap="butt"/>
<polyline points="644.7,73.4 644.7,157.8" fill="none" stroke="#8f9294" stroke-width="1.4" stroke-linecap="round" stroke-linejoin="round" stroke-linecap="butt"/>
<polyline points="712.2,108.0 712.2,212.2" fill="none" stroke="#8f9294" stroke-width="1.4" stroke-linecap="round" stroke-linejoin="round" stroke-linecap="butt"/>
<polyline points="795.4,142.4 795.4,237.0" fill="none" stroke="#8f9294" stroke-width="1.4" stroke-linecap="round" stroke-linejoin="round" stroke-linecap="butt"/>
<polyline points="866.8,190.7 866.8,296.0" fill="none" stroke="#8f9294" stroke-width="1.4" stroke-linecap="round" stroke-linejoin="round" stroke-linecap="butt"/>
<polyline points="252.2,424.7 252.2,316.0" fill="none" stroke="#8f9294" stroke-width="1.4" stroke-linecap="round" stroke-linejoin="round" stroke-linecap="butt"/>
<polyline points="316.6,473.8 316.6,364.4" fill="none" stroke="#5b5d60" stroke-width="0.9" stroke-linecap="round" stroke-linejoin="round" stroke-linecap="butt"/>
<polyline points="383.6,517.7 383.6,332.7" fill="none" stroke="#5b5d60" stroke-width="0.9" stroke-linecap="round" stroke-linejoin="round" stroke-linecap="butt"/>
<polyline points="489.9,558.4 489.9,452.2" fill="none" stroke="#8f9294" stroke-width="1.4" stroke-linecap="round" stroke-linejoin="round" stroke-linecap="butt"/>
<polyline points="602.4,540.7 602.4,392.3" fill="none" stroke="#5b5d60" stroke-width="0.9" stroke-linecap="round" stroke-linejoin="round" stroke-linecap="butt"/>
<polyline points="703.0,496.1 703.0,386.5" fill="none" stroke="#8f9294" stroke-width="1.4" stroke-linecap="round" stroke-linejoin="round" stroke-linecap="butt"/>
<polyline points="851.4,420.0 851.4,318.1" fill="none" stroke="#8f9294" stroke-width="1.4" stroke-linecap="round" stroke-linejoin="round" stroke-linecap="butt"/>
<circle cx="256.6" cy="228.4" r="25.7" fill="#9fa4a5"/>
<g fill="none" stroke="#fff" stroke-width="2.3" stroke-linecap="round">
<path d="M249.6 234.5 A8.6 8.6 0 0 1 264.2 234.5"/>
<path d="M244.9 229.0 A15.6 15.6 0 0 1 268.9 229.0"/>
<path d="M241.1 222.0 A23.2 23.2 0 0 1 272.7 222.0"/>
</g><circle cx="256.9" cy="238.8" r="3.3" fill="#fff"/>
<text x="254.2" y="197.0" text-anchor="middle" fill="#4d4f53">因特网</text>
<circle cx="311.0" cy="198.8" r="25.7" fill="#9fa4a5"/>
<polygon points="297.6,187.0 323.5,184.1 323.7,211.0 299.0,214.1" fill="#fafafa" stroke="#fafafa" stroke-width="2" stroke-linejoin="round"/>
<polygon points="297.4,187.4 298.6,187.3 299.9,213.6 298.8,213.8" fill="#e4e5e5" stroke="#e4e5e5" stroke-width="1.2" stroke-linejoin="round"/>
<path d="M309.4 197.6 q2.2 -2.2 4.6 -0.6 M310.8 199.0 q1.4 -1.2 2.8 -0.3 M311.8 199.8 l1.6 2.2" fill="none" stroke="#c3c5c6" stroke-width="0.7" stroke-linecap="round"/>
<text x="310.3" y="166.4" text-anchor="middle" fill="#4d4f53">智能网关</text>
<circle cx="379.8" cy="149.9" r="25.7" fill="#9fa4a5"/>
<rect x="363.8" y="134.5" width="32" height="32" rx="2" fill="#f7f7f7" stroke="#d9dadb" stroke-width="0.8"/>
<line x1="364.2" y1="162.8" x2="395.4" y2="162.8" stroke="#c9cbcc" stroke-width="0.7"/>
<rect x="364.4" y="163.1" width="30.8" height="3" fill="#fbfbfb"/>
<rect x="389.3" y="164.3" width="3.2" height="0.7" fill="#d3d5d6"/>
<line x1="379.8" y1="135.5" x2="379.8" y2="162.5" stroke="#cfd1d2" stroke-width="0.9"/>
<path d="M370.8 138.7 l1 -1 l1 1" fill="none" stroke="#cdcfd0" stroke-width="0.6"/>
<path d="M370.8 158.7 l1 1 l1 -1z" fill="#c3c5c6"/>
<path d="M386.8 138.7 l1 -1 l1 1" fill="none" stroke="#cdcfd0" stroke-width="0.6"/>
<path d="M386.8 158.7 l1 1 l1 -1z" fill="#c3c5c6"/>
<text x="381.0" y="119.6" text-anchor="middle" fill="#4d4f53">调光开关</text>
<circle cx="434.1" cy="107.6" r="25.7" fill="#9fa4a5"/>
<rect x="417.6" y="90.1" width="33" height="34" rx="1.2" fill="#f7f7f7" stroke="#d9dadb" stroke-width="0.8"/>
<line x1="418.0" y1="120.4" x2="450.2" y2="120.4" stroke="#c9cbcc" stroke-width="0.7"/>
<rect x="418.2" y="120.7" width="31.8" height="3" fill="#fbfbfb"/>
<rect x="444.1" y="121.9" width="3.2" height="0.7" fill="#d3d5d6"/>
<line x1="441.4" y1="90.6" x2="441.4" y2="120.1" stroke="#d3d5d6" stroke-width="0.7"/>
<rect x="445.1" y="117.8" width="2.2" height="1.1" fill="#c9cbcc"/>
<g fill="#47484b">
<path d="M427.3 97.8 h1.4 v2.6 h-1.4 l-1.2 -1.3z M434.3 97.8 h-1.4 v2.6 h1.4 l1.2 -1.3z"/>
<rect x="430.1" y="107.1" width="1.3" height="3.5"/>
<path d="M426.9 113.0 l1.5 0.5 l1.2 2.8 l-1.6 0.2z M434.7 113.0 l-1.5 0.5 l-1.2 2.8 l1.6 0.2z"/>
</g>
<text x="434.2" y="71.8" text-anchor="middle" fill="#4d4f53">智能插座</text>
<circle cx="502.4" cy="80.8" r="25.7" fill="#9fa4a5"/>
<defs><linearGradient id="irb" x1="0" x2="1"><stop offset="0" stop-color="#d9dadb"/><stop offset="0.25" stop-color="#f6f6f7"/><stop offset="1" stop-color="#ececed"/></linearGradient></defs>
<path d="M484.2 77.0 v8.2 a17.9 5.8 0 0 0 35.8 0 v-8.2z" fill="url(#irb)"/>
<path d="M500.4 77.0 V88.3 A17.9 5.8 0 0 0 520.0 82.7 V77.0 z" fill="#46494b"/>
<path d="M484.2 77.0 v2.4 a17.9 5.6 0 0 0 35.8 0 v-2.4z" fill="#4b5052"/>
<ellipse cx="502.1" cy="77.0" rx="17.9" ry="5.6" fill="#5c6264"/>
<ellipse cx="502.1" cy="76.8" rx="16.8" ry="4.9" fill="#61676a"/>
<circle cx="510.4" cy="85.4" r="0.6" fill="#6d7275"/><circle cx="513.4" cy="84.8" r="0.6" fill="#6d7275"/>
<text x="503.2" y="47.4" text-anchor="middle" fill="#4d4f53">360度红外转发器</text>
<circle cx="587.6" cy="55.2" r="25.7" fill="#9fa4a5"/>
<rect x="572.9" y="40.9" width="29.5" height="31" rx="2" fill="#f7f7f7" stroke="#d9dadb" stroke-width="0.8"/>
<line x1="573.2" y1="68.2" x2="602.0" y2="68.2" stroke="#c9cbcc" stroke-width="0.7"/>
<rect x="573.5" y="68.5" width="28.3" height="3" fill="#fbfbfb"/>
<rect x="595.9" y="69.7" width="3.2" height="0.7" fill="#d3d5d6"/>
<line x1="587.6" y1="41.9" x2="587.6" y2="67.9" stroke="#cfd1d2" stroke-width="0.9"/>
<path d="M579.2 64.1 l1 1 l1 -1z" fill="#c3c5c6"/>
<path d="M594.0 64.1 l1 1 l1 -1z" fill="#c3c5c6"/>
<text x="588.2" y="24.6" text-anchor="middle" fill="#4d4f53">智能开关</text>
<circle cx="644.6" cy="73.4" r="25.7" fill="#9fa4a5"/>
<path d="M627.3 64.4 q0 -2.8 4 -3.2 q12.6 -1.5 25.2 0 q4 0.4 4 3.2 v5 h-33.2z" fill="#eeeeef"/>
<path d="M624.3 69.8 q0 -2 3 -2.3 q16.7 -2 33.4 0 q3 0.3 3 2.3 v10.4 a19.7 5 0 0 1 -39.4 0z" fill="#e4e5e6"/>
<ellipse cx="644.0" cy="80.0" rx="19.2" ry="5.2" fill="#f2f2f3"/>
<ellipse cx="645.0" cy="81.6" rx="6.6" ry="2" fill="#fafafa" stroke="#d9dadb" stroke-width="0.8"/>
<rect x="630.6" y="72.2" width="6" height="1" fill="#cfd0d1" transform="rotate(-8 633.6 72.4)"/>
<path d="M631.6 68.4 l4 -0.8" stroke="#d5d6d7" stroke-width="0.6"/>
<text x="657.5" y="43.4" text-anchor="middle" fill="#4d4f53">可燃气体探测器</text>
<circle cx="712.2" cy="108.0" r="25.7" fill="#9fa4a5"/>
<path d="M694.0 104.5 v9.5 a18.2 6.5 0 0 0 36.4 0 v-9.5z" fill="#e9e9e9"/>
<ellipse cx="712.2" cy="104.0" rx="18.2" ry="6.8" fill="#f8f8f8"/>
<ellipse cx="712.2" cy="102.4" rx="3.6" ry="2.4" fill="#6e7073"/>
<text x="715.3" y="78.5" text-anchor="middle" fill="#4d4f53">人体传感器</text>
<circle cx="795.2" cy="142.4" r="25.7" fill="#9fa4a5"/>
<path d="M783.7 132.0 h23 l2.6 14.2 h-28.2z" fill="#dcddde"/>
<rect x="781.1" y="146.2" width="28.2" height="7.2" fill="#c8cacb"/>
<rect x="781.7" y="153.0" width="27" height="1.9" fill="#2c2d2f"/>
<text x="799.6" y="106.0" text-anchor="middle" fill="#4d4f53">温湿度传感器</text>
<circle cx="866.6" cy="190.7" r="25.7" fill="#9fa4a5"/>
<path d="M849.6 195.1 v5.6 q0 1.8 2.2 2.1 q14.8 1.6 29.6 0 q2.2 -0.3 2.2 -2.1 v-5.6z" fill="#f2f2f2"/>
<path d="M851.6 198.1 q15 1.6 30 0" fill="none" stroke="#dcdddd" stroke-width="0.6"/>
<path d="M846.7 188.3 v6.4 a19.9 1.4 0 0 0 39.8 0 v-6.4z" fill="#b3b5b7"/>
<path d="M846.4 182.3 q0 -2.2 3 -2.5 q17.2 -1.4 34.4 0 q3 0.3 3 2.5 v7.4 a20.2 1.3 0 0 1 -40.4 0z" fill="#f3f3f3"/>
<path d="M846.4 182.3 q0 -2.2 3 -2.5 q17.2 -1.4 34.4 0 q3 0.3 3 2.5 a20.2 1.6 0 0 1 -40.4 0z" fill="#fbfbfb"/>
<rect x="871.1" y="186.5" width="5" height="1" fill="#d5d6d7"/>
<circle cx="854.6" cy="198.1" r="0.6" fill="#b5b7b9"/>
<text x="868.3" y="158.0" text-anchor="middle" fill="#4d4f53">烟雾探测报警器</text>
<circle cx="252.0" cy="424.7" r="25.7" fill="#9fa4a5"/>
<rect x="235.6" y="408.1" width="32.4" height="33" rx="3.4" fill="#e3e4e4" stroke="#cfd1d2" stroke-width="0.6"/>
<rect x="238.2" y="408.9" width="29.6" height="31" rx="3" fill="#f6f6f6"/>
<rect x="240.8" y="410.9" width="24.5" height="26" rx="2" fill="#fcfcfc" stroke="#e0e1e1" stroke-width="0.6"/>
<rect x="242.0" y="428.9" width="22" height="6.6" fill="#d3d4d5"/>
<path d="M242.0 431.1 h22 M242.0 433.3 h22" stroke="#ededed" stroke-width="0.7" stroke-dasharray="1.2 1"/>
<text x="233.4" y="464.6" text-anchor="start" fill="#4d4f53">空气质量</text>
<text x="233.4" y="478.4" text-anchor="start" fill="#4d4f53">探测器</text>
<circle cx="317.0" cy="473.8" r="25.7" fill="#9fa4a5"/>
<path d="M309.2 469.6 l13.5 -7.4 l12.8 10.6 v5 l-14.6 5.5 l-11.7 -8.7z" fill="#e4e5e5"/>
<path d="M309.2 469.6 l13.5 -7.4 l12.8 10.6 l-14.6 5.5z" fill="#f9f9f9"/>
<path d="M320.9 478.3 v5 l14.6 -5.5 v-5z" fill="#d9dada"/>
<path d="M297.8 471.9 l4.1 -2.3 l11.1 11.7 v4.4 l-3.8 1.7 l-11.4 -11.1z" fill="#e2e3e3"/>
<path d="M297.8 471.9 l4.1 -2.3 l11.1 11.7 l-3.8 1.7z" fill="#f8f8f8"/>
<path d="M309.2 483.0 l3.8 -1.7 v4.4 l-3.8 1.7z" fill="#d6d7d7"/>
<text x="309.4" y="513.5" text-anchor="middle" fill="#4d4f53">门窗传感器</text>
<circle cx="382.2" cy="517.7" r="25.7" fill="#9fa4a5"/>
<rect x="366.2" y="502.3" width="32" height="32" rx="2" fill="#f7f7f7" stroke="#d9dadb" stroke-width="0.8"/>
<line x1="366.6" y1="530.6" x2="397.8" y2="530.6" stroke="#c9cbcc" stroke-width="0.7"/>
<rect x="366.8" y="530.9" width="30.8" height="3" fill="#fbfbfb"/>
<rect x="391.7" y="532.1" width="3.2" height="0.7" fill="#d3d5d6"/>
<path d="M381.2 506.5 l1 -1 l1 1" fill="none" stroke="#cdcfd0" stroke-width="0.6"/>
<path d="M381.2 526.5 l1 1 l1 -1z" fill="#c3c5c6"/>
<text x="378.1" y="557.3" text-anchor="middle" fill="#4d4f53">场景开关</text>
<circle cx="488.6" cy="558.4" r="25.7" fill="#9fa4a5"/>
<rect x="472.3" y="542.5" width="32.6" height="33" rx="2" fill="#f7f7f7" stroke="#d9dadb" stroke-width="0.8"/>
<line x1="472.7" y1="571.8" x2="504.5" y2="571.8" stroke="#c9cbcc" stroke-width="0.7"/>
<rect x="472.9" y="572.1" width="31.400000000000002" height="3" fill="#fbfbfb"/>
<rect x="498.4" y="573.3" width="3.2" height="0.7" fill="#d3d5d6"/>
<line x1="483.2" y1="543.5" x2="483.2" y2="571.5" stroke="#cfd1d2" stroke-width="0.9"/>
<line x1="494.0" y1="543.5" x2="494.0" y2="571.5" stroke="#cfd1d2" stroke-width="0.9"/>
<path d="M476.7 567.7 l1 1 l1 -1z" fill="#c3c5c6"/>
<path d="M487.6 567.7 l1 1 l1 -1z" fill="#c3c5c6"/>
<path d="M498.5 567.7 l1 1 l1 -1z" fill="#c3c5c6"/>
<text x="489.4" y="600.8" text-anchor="middle" fill="#4d4f53">智能开关</text>
<circle cx="602.6" cy="540.7" r="25.7" fill="#9fa4a5"/>
<polygon points="589.6,527.6 596.8,525.0 596.8,556.5 589.6,553.5" fill="#d7d8d9" stroke="none" stroke-width="0"/>
<polygon points="596.8,525.0 605.6,525.0 606.6,527.6 614.8,527.6 615.7,529.2 615.7,554.7 614.1,557.5 597.8,557.5 596.8,556.5" fill="#eeeeef" stroke="#cfd0d1" stroke-width="0.4"/>
<polygon points="596.8,525.0 605.1,525.0 605.1,551.6 596.8,551.6" fill="#e4e5e6" stroke="none" stroke-width="0"/>
<polygon points="604.7,529.9 614.1,529.9 614.1,541.5 604.7,541.5" fill="#c2c4c6" stroke="none" stroke-width="0"/>
<polygon points="605.3,530.9 613.4,530.9 613.4,534.7 605.3,534.7" fill="#b3b5b7" stroke="none" stroke-width="0"/>
<polygon points="605.9,535.6 608.2,535.6 608.2,538.0 605.9,538.0" fill="#f4f4f4" stroke="none" stroke-width="0"/>
<polygon points="609.1,535.6 611.0,535.6 611.0,538.0 609.1,538.0" fill="#a9abad" stroke="none" stroke-width="0"/>
<polygon points="598.7,528.2 601.9,528.2 602.9,534.3 599.5,535.2" fill="#303134" stroke="none" stroke-width="0"/>
<polygon points="593.8,528.5 596.2,527.9 596.2,530.4 593.8,531.1" fill="#c2c4c6" stroke="none" stroke-width="0"/>
<circle cx="600.8" cy="538.4" r="0.8" fill="#3a3b3e"/>
<circle cx="600.8" cy="540.8" r="0.8" fill="#3a3b3e"/>
<circle cx="600.8" cy="543.2" r="0.8" fill="#3a3b3e"/>
<circle cx="600.8" cy="545.5" r="0.8" fill="#3a3b3e"/>
<polygon points="608.7,546.7 611.9,546.7 611.9,549.0 608.7,549.0" fill="#f8f8f8" stroke="#b5b7b9" stroke-width="0.4"/>
<polygon points="599.3,551.5 602.9,551.5 602.9,555.2 599.3,555.2" fill="#45474a" stroke="none" stroke-width="0"/>
<polygon points="600.1,552.0 600.6,552.0 601.0,554.7 600.4,554.7" fill="#e4e5e6" stroke="none" stroke-width="0"/>
<polygon points="601.6,552.0 602.1,552.0 602.1,554.7 601.6,554.7" fill="#e4e5e6" stroke="none" stroke-width="0"/>
<polygon points="604.0,551.5 607.6,551.5 607.6,555.2 604.0,555.2" fill="#45474a" stroke="none" stroke-width="0"/>
<polygon points="604.8,552.0 605.3,552.0 605.7,554.7 605.1,554.7" fill="#e4e5e6" stroke="none" stroke-width="0"/>
<polygon points="606.3,552.0 606.8,552.0 606.8,554.7 606.3,554.7" fill="#e4e5e6" stroke="none" stroke-width="0"/>
<polygon points="608.5,551.5 612.1,551.5 612.1,555.2 608.5,555.2" fill="#45474a" stroke="none" stroke-width="0"/>
<polygon points="609.3,552.0 609.9,552.0 610.2,554.7 609.7,554.7" fill="#e4e5e6" stroke="none" stroke-width="0"/>
<polygon points="610.8,552.0 611.4,552.0 611.4,554.7 610.8,554.7" fill="#e4e5e6" stroke="none" stroke-width="0"/>
<text x="571.5" y="580.7" text-anchor="start" fill="#4d4f53">ZB/RS485通讯</text>
<text x="571.5" y="594.1" text-anchor="start" fill="#4d4f53">接口模块</text>
<circle cx="703.1" cy="496.1" r="25.7" fill="#9fa4a5"/>
<polygon points="685.7,495.3 691.0,500.3 702.3,501.5 713.7,500.3 720.5,495.3 720.5,499.3 714.1,505.2 702.3,506.7 691.8,505.3 685.7,498.9" fill="#fbfbfb" stroke="#fbfbfb" stroke-width="2.2" stroke-linejoin="round"/>
<polygon points="685.7,492.3 692.6,486.3 702.3,485.0 712.3,485.4 720.5,492.0 720.3,495.6 713.7,500.1 702.3,501.2 691.0,500.1 685.7,495.6" fill="#e9e9ea" stroke="#e9e9ea" stroke-width="2.2" stroke-linejoin="round"/>
<circle cx="703.1" cy="487.6" r="0.6" fill="#cfd0d1"/>
<text x="704.2" y="538.0" text-anchor="middle" fill="#4d4f53">水浸传感器</text>
<circle cx="851.6" cy="420.0" r="25.7" fill="#9fa4a5"/>
<rect x="835.6" y="404.6" width="32" height="32" rx="2" fill="#f7f7f7" stroke="#d9dadb" stroke-width="0.8"/>
<line x1="836.0" y1="432.9" x2="867.2" y2="432.9" stroke="#c9cbcc" stroke-width="0.7"/>
<rect x="836.2" y="433.2" width="30.8" height="3" fill="#fbfbfb"/>
<rect x="861.1" y="434.4" width="3.2" height="0.7" fill="#d3d5d6"/>
<line x1="851.6" y1="405.6" x2="851.6" y2="432.6" stroke="#cfd1d2" stroke-width="0.9"/>
<path d="M842.6 408.8 l1 -1 l1 1" fill="none" stroke="#cdcfd0" stroke-width="0.6"/>
<path d="M842.6 428.8 l1 1 l1 -1z" fill="#c3c5c6"/>
<path d="M858.6 408.8 l1 -1 l1 1" fill="none" stroke="#cdcfd0" stroke-width="0.6"/>
<path d="M858.6 428.8 l1 1 l1 -1z" fill="#c3c5c6"/>
<text x="850.2" y="461.1" text-anchor="middle" fill="#4d4f53">窗帘开关</text>
<g transform="translate(0.0 0.0)" fill="none" stroke="#43b85c" stroke-width="2.5" stroke-linecap="round">
<circle cx="152.5" cy="226.9" r="2.3" fill="#43b85c" stroke="none"/>
<path d="M157.1 218.5 A10.3 10.3 0 0 1 157.1 235.5"/>
<path d="M162.4 212.4 A19.8 19.8 0 0 1 162.4 241.5"/>
<path d="M167.5 206.1 A28.3 28.3 0 0 1 167.5 247.6"/>
</g>
<g transform="translate(0.2 154.1)" fill="none" stroke="#43b85c" stroke-width="2.5" stroke-linecap="round">
<circle cx="152.5" cy="226.9" r="2.3" fill="#43b85c" stroke="none"/>
<path d="M157.1 218.5 A10.3 10.3 0 0 1 157.1 235.5"/>
<path d="M162.4 212.4 A19.8 19.8 0 0 1 162.4 241.5"/>
<path d="M167.5 206.1 A28.3 28.3 0 0 1 167.5 247.6"/>
</g>
<defs><clipPath id="scr"><rect x="84.9" y="178.2" width="47.2" height="100" rx="3.6"/></clipPath><linearGradient id="ph1" x1="0" y1="0" x2="1" y2="1"><stop offset="0" stop-color="#4e463d"/><stop offset="0.55" stop-color="#6d6256"/><stop offset="1" stop-color="#3d352d"/></linearGradient></defs>
<rect x="83.5" y="176.6" width="49.8" height="103" rx="5" fill="#fff" stroke="#dfe0e1" stroke-width="0.8"/>
<g clip-path="url(#scr)">
<rect x="84.9" y="178.2" width="47.2" height="100" fill="#fff"/>
<rect x="84.9" y="179.4" width="47.2" height="2.8" fill="#3a3d3b"/>
<path d="M98.6 178 h17.2 v1.6 q0 2.6 -2.6 2.6 h-12 q-2.6 0 -2.6 -2.6z" fill="#fff"/>
<rect x="84.9" y="182.1" width="47.2" height="6.5" fill="#3fbb5e"/>
<rect x="102.5" y="184.8" width="13" height="1.2" fill="#d9f3df"/>
<rect x="84.9" y="188.6" width="47.2" height="82.8" fill="url(#ph1)"/>
<path d="M113 188.6 h19.1 v14 l-8 -3 l-10 4z" fill="#a39586" opacity="0.8"/>
<path d="M116 188.6 l6 9 l8 -9z" fill="#d4c9bb" opacity="0.7"/>
<rect x="96.5" y="194.2" width="11.5" height="2.6" rx="1" fill="#fff"/>
<ellipse cx="91" cy="195.6" rx="3.2" ry="1.9" fill="none" stroke="#fff" stroke-width="0.7"/>
<rect x="126.5" y="193.6" width="4.5" height="2.6" fill="#e8e4de" opacity="0.8"/>
<rect x="88.5" y="201" width="5.5" height="1" fill="#b9b0a5" opacity="0.8"/>
<rect x="102.0" y="201" width="5.5" height="1" fill="#b9b0a5" opacity="0.8"/>
<rect x="117.5" y="201" width="5.5" height="1" fill="#b9b0a5" opacity="0.8"/>
<rect x="86.3" y="206.5" width="22" height="11.5" fill="#52688a"/>
<path d="M88 218 l5 -11.5 h2.6 l-5 11.5z M94.5 218 l5 -11.5 h2.6 l-5 11.5z M101.5 218 l4 -9 l1.8 0 l0 3 l-3 6z" fill="#8fa7c9" opacity="0.85"/>
<rect x="109.8" y="206.5" width="21.5" height="11.5" fill="#7d7a78"/>
<rect x="111" y="208" width="6" height="7" fill="#aeb9c6"/><rect x="118.5" y="207.5" width="5" height="7.5" fill="#c9c3b8"/><rect x="124.5" y="208.5" width="5.5" height="6" fill="#9fa9b6"/>
<rect x="116" y="215" width="15.3" height="3" fill="#5d4436"/>
<rect x="86.5" y="220.3" width="9.5" height="1.3" fill="#f1efec"/><rect x="102.5" y="220.4" width="7.5" height="1.1" fill="#bcb4aa"/><rect x="115.5" y="220.4" width="7" height="1.1" fill="#bcb4aa"/>
<rect x="85.7" y="225.3" width="22.1" height="12.7" rx="0.6" fill="#fdfdfd"/>
<rect x="87.0" y="234.6" width="6.0" height="1.1" fill="#6b6e72"/>
<rect x="87.2" y="226.9" width="4.4" height="4.4" fill="#e6e7e8"/>
<rect x="93.7" y="227.9" width="3" height="0.9" fill="#b5b7b9"/>
<rect x="109.1" y="225.3" width="22.5" height="12.7" rx="0.6" fill="#fdfdfd"/>
<rect x="110.4" y="234.6" width="9.0" height="1.1" fill="#6b6e72"/>
<rect x="110.6" y="226.9" width="4.4" height="4.4" fill="#e6e7e8"/>
<rect x="117.1" y="227.9" width="3" height="0.9" fill="#b5b7b9"/>
<rect x="85.7" y="239.9" width="22.1" height="12.3" rx="0.6" fill="#fdfdfd"/>
<rect x="87.0" y="248.8" width="7.0" height="1.1" fill="#6b6e72"/>
<rect x="87.0" y="242.5" width="3.6" height="0.9" fill="#8fa0b5"/>
<rect x="109.1" y="239.9" width="22.5" height="12.3" rx="0.6" fill="#fdfdfd"/>
<rect x="110.4" y="248.8" width="8.0" height="1.1" fill="#6b6e72"/>
<rect x="110.4" y="242.1" width="5" height="3" fill="#1c1c1e"/>
<rect x="85.7" y="254.1" width="22.1" height="12.7" rx="0.6" fill="#fdfdfd"/>
<rect x="87.0" y="263.4" width="9.0" height="1.1" fill="#6b6e72"/>
<path d="M87.3 257.7 q2 -2 4 0 q1 1 2.5 0" fill="none" stroke="#b5b7b9" stroke-width="0.7"/>
<rect x="95.7" y="256.9" width="3" height="0.8" fill="#c9cbcd"/>
<rect x="109.1" y="254.1" width="22.5" height="12.7" rx="0.6" fill="#fdfdfd"/>
<rect x="110.4" y="263.4" width="12.0" height="1.1" fill="#6b6e72"/>
<path d="M110.7 257.7 q2 -2 4 0 q1 1 2.5 0" fill="none" stroke="#b5b7b9" stroke-width="0.7"/>
<rect x="119.1" y="256.9" width="3" height="0.8" fill="#c9cbcd"/>
<rect x="84.9" y="268.3" width="24" height="3.3" fill="#fdfdfd"/>
<rect x="84.9" y="271.5" width="47.2" height="8" fill="#fff"/>
<rect x="90.5" y="273.6" width="3.2" height="2.2" fill="none" stroke="#b5b7b9" stroke-width="0.5"/>
<rect x="107.3" y="274.2" width="2.6" height="1" fill="#9a9c9e"/>
<rect x="123.6" y="273.8" width="3" height="1.8" fill="none" stroke="#d99aa0" stroke-width="0.5"/><circle cx="127" cy="273.2" r="0.7" fill="#e0525f"/>
</g>
<defs><linearGradient id="spk" x1="0" x2="1"><stop offset="0" stop-color="#3b3c40"/><stop offset="0.22" stop-color="#54565b"/><stop offset="0.55" stop-color="#4a4c51"/><stop offset="1" stop-color="#2e2f33"/></linearGradient><linearGradient id="spk2" x1="0" x2="1"><stop offset="0" stop-color="#25262a"/><stop offset="0.3" stop-color="#34353a"/><stop offset="1" stop-color="#202124"/></linearGradient></defs>
<path d="M86.3 414 h46.1 v7.2 q-23 3.6 -46.1 0z" fill="#26272a"/>
<path d="M82.4 345.2 q0 -3.2 3.2 -3.5 q23.6 -1.4 47.2 0 q3.2 0.3 3.2 3.5 v71.8 q-26.8 2.6 -53.6 0z" fill="url(#spk)"/>
<path d="M82.4 392.7 q26.8 1.6 53.6 0 v24.3 q-26.8 2.6 -53.6 0z" fill="url(#spk2)"/>
<path d="M110 384 h7 v2.2 h-5 l-2 1.2z" fill="#3a3b3f" opacity="0.9"/>
<text x="108.8" y="295.4" text-anchor="middle" style="font-size:11.8px" fill="#85878a">手机App</text>
<text x="108.8" y="449.3" text-anchor="middle" style="font-size:11.5px" fill="#85878a">语音控制</text>
</svg>
</body>
</html>
